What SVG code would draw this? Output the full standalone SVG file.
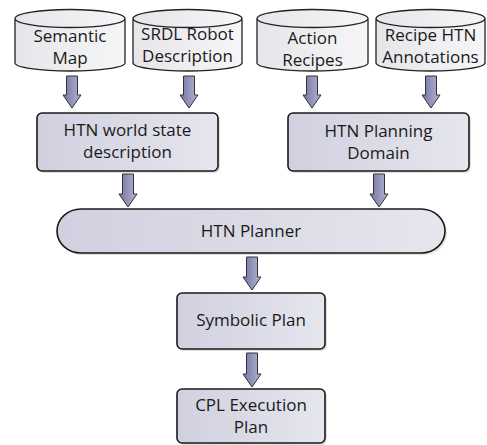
<svg xmlns="http://www.w3.org/2000/svg" width="487" height="445" viewBox="0 0 487 445">
<style>
text{font-family:"Open Sans","DejaVu Sans",sans-serif;font-size:17px;fill:#1a1a1a;text-anchor:middle}
.cyl{fill:url(#gc);stroke:#222;stroke-width:1.3}
.box{fill:url(#gb);stroke:#1a1a1a;stroke-width:1.6}
.arr{fill:url(#ga);stroke:#333;stroke-width:1}
.sh{fill:#000;opacity:0.12}
</style>
<defs>
<linearGradient id="gc" x1="0" y1="0" x2="1" y2="0"><stop offset="0" stop-color="#e6e6ea"/><stop offset="1" stop-color="#f6f6f8"/></linearGradient>
<linearGradient id="gb" x1="0" y1="0" x2="1" y2="0"><stop offset="0" stop-color="#d0d0e0"/><stop offset="1" stop-color="#e6e6ee"/></linearGradient>
<linearGradient id="ga" x1="0" y1="0" x2="1" y2="0"><stop offset="0" stop-color="#7474a4"/><stop offset="1" stop-color="#b4b4d4"/></linearGradient>
</defs>
<g id="connectors">
<path class="arr" d="M66.5 76H77.5V95H81L72 108L63 95H66.5Z"/>
<path class="arr" d="M183.5 76H194.5V95H198L189 108L180 95H183.5Z"/>
<path class="arr" d="M306.5 76H317.5V95H321L312 108L303 95H306.5Z"/>
<path class="arr" d="M425.5 76H436.5V95H440L431 108L422 95H425.5Z"/>
<path class="arr" d="M122.5 174H133.5V194H137L128 207L119 194H122.5Z"/>
<path class="arr" d="M373.5 174H384.5V194H388L379 207L370 194H373.5Z"/>
<path class="arr" d="M246.5 257H257.5V277H261L252 290L243 277H246.5Z"/>
<path class="arr" d="M246.5 353H257.5V374H261L252 387L243 374H246.5Z"/>
</g>
<g id="semantic-map">
<path class="cyl" d="M15 18.5V63A55 8 0 0 0 125 63V18.5A55 9 0 0 0 15 18.5A55 9 0 0 0 125 18.5"/>
<text x="70" y="42">Semantic</text><text x="70" y="64">Map</text>
</g>
<g id="srdl">
<path class="cyl" d="M133 18.5V63A54.5 8 0 0 0 242 63V18.5A54.5 9 0 0 0 133 18.5A54.5 9 0 0 0 242 18.5"/>
<text x="187.5" y="40">SRDL Robot</text><text x="187.5" y="62">Description</text>
</g>
<g id="action-recipes">
<path class="cyl" d="M257 18.5V63A55.5 8 0 0 0 368 63V18.5A55.5 9 0 0 0 257 18.5A55.5 9 0 0 0 368 18.5"/>
<text x="312.5" y="44">Action</text><text x="312.5" y="66">Recipes</text>
</g>
<g id="recipe-htn">
<path class="cyl" d="M376 18.5V63A54.5 8 0 0 0 485 63V18.5A54.5 9 0 0 0 376 18.5A54.5 9 0 0 0 485 18.5"/>
<text x="430.5" y="41">Recipe HTN</text><text x="430.5" y="63">Annotations</text>
</g>
<g id="world-state">
<rect class="sh" x="39" y="115" width="181" height="58" rx="5"/>
<rect class="box" x="37" y="113" width="181" height="58" rx="5"/>
<text x="127.5" y="136">HTN world state</text><text x="127.5" y="158">description</text>
</g>
<g id="planning-domain">
<rect class="sh" x="290" y="115" width="181" height="58" rx="5"/>
<rect class="box" x="288" y="113" width="181" height="58" rx="5"/>
<text x="378.5" y="137">HTN Planning</text><text x="378.5" y="159">Domain</text>
</g>
<g id="htn-planner">
<rect class="sh" x="59" y="211" width="388" height="44" rx="24" ry="22"/>
<rect class="box" x="57" y="209" width="388" height="44" rx="24" ry="22"/>
<text x="251" y="237">HTN Planner</text>
</g>
<g id="symbolic-plan">
<rect class="sh" x="179" y="295" width="148" height="56" rx="5"/>
<rect class="box" x="177" y="293" width="148" height="56" rx="5"/>
<text x="251" y="326">Symbolic Plan</text>
</g>
<g id="cpl-plan">
<rect class="sh" x="179" y="391" width="148" height="54" rx="5"/>
<rect class="box" x="177" y="389" width="148" height="54" rx="5"/>
<text x="251" y="411">CPL Execution</text><text x="251" y="433">Plan</text>
</g>
</svg>
